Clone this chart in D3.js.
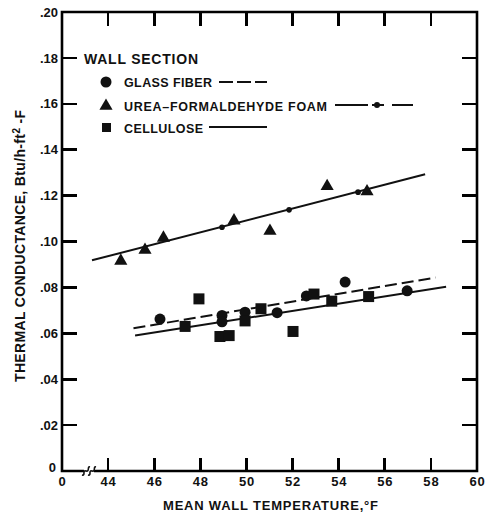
<!DOCTYPE html>
<html>
<head>
<meta charset="utf-8">
<script src="https://cdn.jsdelivr.net/npm/d3@7"></script>
<style>
  body { margin: 0; background: #fff; }
  svg text { font-family: "Liberation Sans", Arial, sans-serif; fill: #111; font-weight: bold; }
</style>
</head>
<body>
<div id="chart"></div>
<script>
// data
const glassFiber = [[46.25, .0662], [48.94, .0678], [48.94, .0650], [49.94, .0692], [51.33, .0690],
                    [52.6, .0763], [54.28, .0823], [56.97, .0785]];
const ureaFoam = [[44.55, .0920], [45.6, .0967], [46.4, .1020], [49.46, .1095], [51.02, .1050],
                  [53.5, .1245], [55.23, .1222]];
const cellulose = [[47.94, .0750], [47.34, .0630], [48.85, .0586], [49.25, .0590], [49.94, .0654],
                   [50.63, .0707], [52.02, .0608], [52.93, .0771], [53.7, .0740], [55.3, .0760]];
const glassLine = [[45.1, .0622], [58.2, .0843]];
const ureaLine = [[43.3, .0918], [57.75, .1293]];
const ureaDots = [[48.94, .1062], [51.85, .1138], [54.84, .1215]];
const celluloseLine = [[45.17, .0590], [58.66, .0803]];
const xTicks = [42, 44, 46, 48, 50, 52, 54, 56, 58, 60];
const yTicks = [0, .02, .04, .06, .08, .10, .12, .14, .16, .18, .20];

const W = 485, H = 513;
const margin = {top: 12, right: 8, bottom: 42, left: 62};

const svg = d3.select("#chart").append("svg")
  .attr("width", W)
  .attr("height", H);

const xScale = d3.scaleLinear().domain([42, 60]).range([margin.left, W - margin.right]);
const yScale = d3.scaleLinear().domain([0, 0.2]).range([H - margin.bottom, margin.top]);

const x0 = xScale.range()[0], x1 = xScale.range()[1];
const y0 = yScale.range()[0], y1 = yScale.range()[1];

// tick labels through d3 axes
const xFmt = (d) => d === 42 ? "0" : d;
const yFmt = (d) => d === 0 ? "0" : d3.format(".2f")(d).slice(1);

const xAxis = svg.append("g")
  .attr("transform", `translate(0, ${y0})`)
  .call(d3.axisBottom(xScale).tickValues(xTicks).tickFormat(xFmt).tickSize(0).tickPadding(5));
xAxis.select(".domain").remove();
xAxis.selectAll("text").attr("font-size", 13).attr("letter-spacing", "0.8px").attr("dy", "0.8em").attr("fill", "#111");

const yAxis = svg.append("g")
  .attr("transform", `translate(${x0}, 0)`)
  .call(d3.axisLeft(yScale).tickValues(yTicks).tickFormat(yFmt).tickSize(0).tickPadding(4));
yAxis.select(".domain").remove();
yAxis.selectAll("text").attr("font-size", 13).attr("fill", "#111").attr("x", -4);
yAxis.selectAll(".tick").filter((d) => d === 0).select("text").attr("dy", "0.05em").attr("x", -6);

// inward tick marks on every side
const tickPath = xTicks.slice(1, -1).map((t) =>
    `M${xScale(t)},${y0}L${xScale(t)},${y0 - 13}M${xScale(t)},${y1}L${xScale(t)},${y1 + 14}`).join("") +
  yTicks.slice(1, -1).map((t) =>
    `M${x0},${yScale(t)}L${x0 + 15},${yScale(t)}M${x1},${yScale(t)}L${x1 - 15},${yScale(t)}`).join("");
svg.append("path")
  .attr("d", tickPath)
  .attr("fill", "none").attr("stroke", "#000").attr("stroke-width", 2.6)
  .attr("shape-rendering", "crispEdges");

// frame with break on the x axis
const brk = xScale(43.17);
svg.append("path")
  .attr("d", `M${brk - 5},${y0} L${x0},${y0} L${x0},${y1} L${x1},${y1} L${x1},${y0} L${brk + 5},${y0}`)
  .attr("fill", "none").attr("stroke", "#000").attr("stroke-width", 2.6);
[-3, 3].forEach((off) => {
  svg.append("path")
    .attr("d", `M${brk + off - 4},${y0 + 4} C${brk + off},${y0 + 5} ${brk + off - 4},${y0 - 1} ${brk + off},${y0} S${brk + off + 1},${y0 - 5} ${brk + off + 4},${y0 - 4}`)
    .attr("fill", "none").attr("stroke", "#111").attr("stroke-width", 1.6);
});

// axis titles
svg.append("text")
  .attr("x", 163)
  .attr("y", 510)
  .attr("font-size", 13)
  .attr("textLength", 215)
  .attr("lengthAdjust", "spacing")
  .text("MEAN WALL TEMPERATURE,°F");

svg.append("text")
  .attr("transform", `translate(25, 382) rotate(-90)`)
  .attr("font-size", 14)
  .attr("letter-spacing", "0.35px")
  .html("THERMAL CONDUCTANCE, Btu/h-ft<tspan dy='-5' font-size='10'>2</tspan><tspan dy='5'> -F</tspan>");

// fit lines
const line = d3.line().x((d) => xScale(d[0])).y((d) => yScale(d[1]));

svg.append("path").datum(glassLine).attr("d", line)
  .attr("fill", "none").attr("stroke", "#111").attr("stroke-width", 2).attr("stroke-dasharray", "12,5");
svg.append("path").datum(ureaLine).attr("d", line)
  .attr("fill", "none").attr("stroke", "#111").attr("stroke-width", 2);
svg.append("path").datum(celluloseLine).attr("d", line)
  .attr("fill", "none").attr("stroke", "#111").attr("stroke-width", 2);
svg.selectAll("ureaDots").data(ureaDots).enter().append("circle")
  .attr("cx", (d) => xScale(d[0])).attr("cy", (d) => yScale(d[1])).attr("r", 2.8).attr("fill", "#111");

// markers
const tri = d3.symbol().type(d3.symbolTriangle).size(75);
const sq = 11;

svg.selectAll("glassPts").data(glassFiber).enter().append("circle")
  .attr("cx", (d) => xScale(d[0])).attr("cy", (d) => yScale(d[1])).attr("r", 5.5).attr("fill", "#111");
svg.selectAll("ureaPts").data(ureaFoam).enter().append("path")
  .attr("d", tri)
  .attr("transform", (d) => `translate(${xScale(d[0])}, ${yScale(d[1]) + 1})`)
  .attr("fill", "#111");
svg.selectAll("cellPts").data(cellulose).enter().append("rect")
  .attr("x", (d) => xScale(d[0]) - sq / 2).attr("y", (d) => yScale(d[1]) - sq / 2)
  .attr("width", sq).attr("height", sq).attr("fill", "#111");

// legend
const legend = svg.append("g");
legend.append("text").attr("x", 84).attr("y", 64).attr("font-size", 14)
  .attr("textLength", 114).attr("lengthAdjust", "spacing").text("WALL SECTION");

legend.append("circle").attr("cx", 106).attr("cy", 82).attr("r", 5.5).attr("fill", "#111");
legend.append("text").attr("x", 124).attr("y", 87).attr("font-size", 12.5)
  .attr("textLength", 88).attr("lengthAdjust", "spacing").text("GLASS FIBER");
legend.append("line").attr("x1", 219).attr("x2", 267).attr("y1", 82).attr("y2", 82)
  .attr("stroke", "#111").attr("stroke-width", 2).attr("stroke-dasharray", "14,4");

legend.append("path").attr("d", tri).attr("transform", "translate(106, 106)").attr("fill", "#111");
legend.append("text").attr("x", 124).attr("y", 111).attr("font-size", 12.5)
  .attr("textLength", 203).attr("lengthAdjust", "spacing").text("UREA–FORMALDEHYDE FOAM");
legend.append("line").attr("x1", 335).attr("x2", 413).attr("y1", 105).attr("y2", 105)
  .attr("stroke", "#111").attr("stroke-width", 2).attr("stroke-dasharray", "33,4,12,8,21");
legend.append("circle").attr("cx", 377).attr("cy", 105).attr("r", 3).attr("fill", "#111");

legend.append("rect").attr("x", 102).attr("y", 123).attr("width", 9).attr("height", 9).attr("fill", "#111");
legend.append("text").attr("x", 124).attr("y", 133).attr("font-size", 12.5)
  .attr("textLength", 79).attr("lengthAdjust", "spacing").text("CELLULOSE");
legend.append("line").attr("x1", 209).attr("x2", 267).attr("y1", 127).attr("y2", 127)
  .attr("stroke", "#111").attr("stroke-width", 2);
</script>
</body>
</html>
